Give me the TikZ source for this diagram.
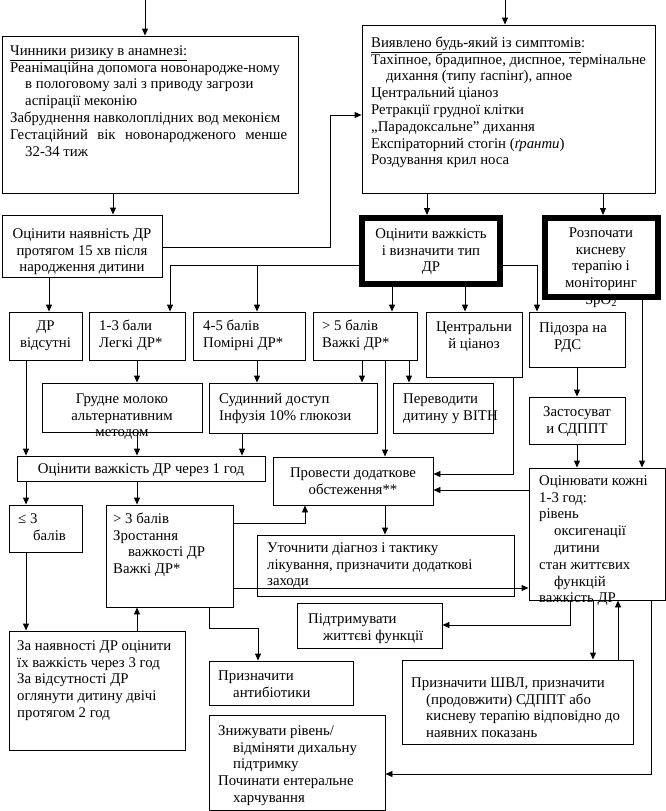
\documentclass[tikz,border=0pt]{standalone}
\usepackage{fontspec}
\setmainfont{Liberation Serif}
\usetikzlibrary{arrows.meta,fit}
\newcommand\fs{\fontsize{14.8}{16.8}\selectfont}
\newcommand\st{\rule{0pt}{12pt}}
\newcommand\ii{\hspace*{15pt}}
\tikzset{
 bx/.style={draw, line width=0.9pt, inner sep=0pt},
 thk/.style={draw, line width=6pt, inner sep=0pt},
 ln/.style={line width=0.9pt},
 arr/.style={line width=0.9pt, -{Triangle[length=7pt,width=6pt]}},
 tl/.style={anchor=north west, inner sep=0pt, align=left, font=\fs},
 tc/.style={anchor=north, inner sep=0pt, align=center, font=\fs},
}
\begin{document}
\begin{tikzpicture}[x=1pt,y=-1pt]
\useasboundingbox (0,0) rectangle (666,811);
% boxes
\node[bx, fit={(2,36)(298,193)}] (b1) {};
\node[bx, fit={(362,25)(655,193)}] (b3) {};
\node[bx, fit={(2,215)(162,277)}] (b2) {};
\node[thk, fit={(362,218)(500,284)}] (b4) {};
\node[thk, fit={(545,218)(658,297)}] (b5) {};
\node[bx, fit={(9,312)(82,360)}] (dr0) {};
\node[bx, fit={(89,312)(185,360)}] (c13) {};
\node[bx, fit={(193,312)(305,360)}] (c45) {};
\node[bx, fit={(313,312)(417,360)}] (c5) {};
\node[bx, fit={(426,312)(522,377)}] (cy) {};
\node[bx, fit={(529,312)(625,367)}] (rds) {};
\node[bx, fit={(42,383)(202,432)}] (grud) {};
\node[bx, fit={(209,383)(377,433)}] (sud) {};
\node[bx, fit={(393,383)(493,433)}] (per) {};
\node[bx, fit={(529,397)(625,444)}] (zas) {};
\node[bx, fit={(17,456)(265,481)}] (h1) {};
\node[bx, fit={(273,457)(433,505)}] (prov) {};
\node[bx, fit={(529,468)(665,600)}] (ev) {};
\node[bx, fit={(9,505)(82,552)}] (le3) {};
\node[bx, fit={(106,505)(233,607)}] (gt3) {};
\node[bx, fit={(257,535)(514,596)}] (ut) {};
\node[bx, fit={(297,603)(442,648)}] (pid) {};
\node[bx, fit={(9,631)(185,750)}] (za) {};
\node[bx, fit={(209,661)(353,705)}] (ab) {};
\node[bx, fit={(209,715)(385,810)}] (zn) {};
\node[bx, fit={(402,660)(633,744)}] (shvl) {};
% texts
\node[tl] (t-b1) at (10,43) {\st\underline{Чинники ризику в анамнезі:}\\
Реанімаційна допомога новонародже-ному\\
\ii в пологовому залі з приводу загрози\\
\ii аспірації меконію\\
Забруднення навколоплідних вод меконієм\\
\makebox[277pt][s]{Гестаційний вік новонародженого менше}\\
\ii 32-34 тиж};
\node[tl] (t-b3) at (371,35) {\st\underline{Виявлено будь-який із симптомів}:\\
Тахіпное, брадипное, диспное, термінальне\\
\ii дихання (типу ґаспінґ), апное\\
Центральний ціаноз\\
Ретракції грудної клітки\\
„Парадоксальне” дихання\\
Експіраторний стогін (\textit{ґранти})\\
Роздування крил носа};
\node[tc] (t-b2) at (82,226) {\st Оцінити наявність ДР\\протягом 15 хв після\\народження дитини};
\node[tc] (t-b4) at (431,226) {\st Оцінити важкість\\і визначити тип\\ДР};
\node[tc] (t-b5) at (601,225) {\st Розпочати\\кисневу\\терапію і\\моніторинг\\SpO\textsubscript{2}};
\node[tc] (t-dr0) at (45.5,318) {\st ДР\\відсутні};
\node[tl] (t-c13) at (99,318) {\st 1-3 бали\\Легкі ДР*};
\node[tl] (t-c45) at (203,318) {\st 4-5 балів\\Помірні ДР*};
\node[tl] (t-c5) at (322,318) {\st > 5 балів\\Важкі ДР*};
\node[tc] (t-cy) at (474,319) {\st Центральни\\й ціаноз};
\node[tl] (t-rds) at (539,320) {\st Підозра на\\\ii РДС};
\node[tc] (t-zas) at (577,404) {\st Застосуват\\и СДППТ};
\node[tc] (t-grud) at (122,391) {\st Грудне молоко\\альтернативним\\методом};
\node[tl] (t-sud) at (219,391) {\st Судинний доступ\\Інфузія 10\% глюкози};
\node[tl] (t-per) at (403,391) {\st Переводити\\дитину у ВІТН};
\node[tc] (t-h1) at (141,461) {\st Оцінити важкість ДР через 1 год};
\node[tc] (t-prov) at (353,465) {\st Провести додаткове\\обстеження**};
\node[tl] (t-le3) at (18,511) {\st ≤ 3\\\ii балів};
\node[tl] (t-gt3) at (113,511) {\st > 3 балів\\Зростання\\\ii важкості ДР\\Важкі ДР*};
\node[tl] (t-ut) at (267,540) {\st Уточнити діагноз і тактику\\лікування, призначити додаткові\\заходи};
\node[tl] (t-pid) at (308,611) {\st Підтримувати\\\ii життєві функції};
\node[tl] (t-ev) at (539,473) {\st Оцінювати кожні\\1-3 год:\\рівень\\\ii оксигенації\\\ii дитини\\стан життєвих\\\ii функцій\\важкість ДР};
\node[tl] (t-za) at (17,638) {\st За наявності ДР оцінити\\їх важкість через 3 год\\За відсутності ДР\\оглянути дитину двічі\\протягом 2 год};
\node[tl] (t-ab) at (218,668) {\st Призначити\\\ii антибіотики};
\node[tl] (t-zn) at (218,723) {\st Знижувати рівень/\\\ii відміняти дихальну\\\ii підтримку\\Починати ентеральне\\\ii харчування};
\node[tl] (t-shvl) at (411,675) {\st Призначити ШВЛ, призначити\\\ii (продовжити) СДППТ або\\\ii кисневу терапію відповідно до\\\ii наявних показань};
% connectors
\coordinate (in1) at (145,0);
\coordinate (in3) at (505,0);
\draw[arr] (in1) -- (in1 |- b1.north);
\draw[arr] (in3) -- (in3 |- b3.north);
\draw[arr] (113,0 |- b1.south) -- (113,0 |- b2.north);
\draw[arr] (b2.east |- 0,247) -- (330,247) -- (330,115) -- (b3.west |- 0,115);
\draw[arr] (427,0 |- b3.south) -- (427,0 |- b4.north);
\draw[arr] (603,0 |- b3.south) -- (603,0 |- b5.north);
\draw[arr] (49,0 |- b2.south) -- (49,0 |- dr0.north);
\draw[arr] (b4.west |- 0,265) -- (170,265) -- (170,0 |- c13.north);
\draw[arr] (257,265) -- (257,0 |- c45.north);
\draw[arr] (392,0 |- b4.south) -- (392,0 |- c5.north);
\draw[arr] (465,0 |- b4.south) -- (465,0 |- cy.north);
\draw[arr] (b4.east |- 0,265) -- (537,265) -- (537,0 |- rds.north);
\draw[arr] (642,0 |- b5.south) -- (642,0 |- ev.north);
\draw[arr] (577,0 |- rds.south) -- (577,0 |- zas.north);
\draw[arr] (577,0 |- zas.south) -- (577,0 |- ev.north);
\draw[arr] (513,0 |- cy.south) -- (513,474) -- (prov.east |- 0,474);
\draw[arr] (ev.west |- 0,490) -- (prov.east |- 0,490);
\draw[arr] (385,0 |- c5.south) -- (385,0 |- prov.north);
\draw[arr] (409,0 |- c5.south) -- (409,0 |- per.north);
\draw[arr] (257,0 |- c45.south) -- (257,0 |- sud.north);
\draw[arr] (362,0 |- c5.south) -- (362,0 |- sud.north);
\draw[arr] (137,0 |- c13.south) -- (137,0 |- grud.north);
\draw[arr] (26,0 |- dr0.south) -- (26,0 |- h1.north);
\draw[arr] (137,0 |- grud.south) -- (137,0 |- h1.north);
\draw[arr] (242,0 |- sud.south) -- (242,0 |- h1.north);
\draw[arr] (26,0 |- h1.south) -- (26,0 |- le3.north);
\draw[arr] (137,0 |- h1.south) -- (137,0 |- gt3.north);
\draw[arr] (gt3.east |- 0,523) -- (305,523) -- (305,0 |- prov.south);
\draw[arr] (gt3.east |- 0,588) -- (ev.west |- 0,588);
\draw[arr] (209,0 |- gt3.south) -- (209,628) -- (258,628) -- (258,0 |- ab.north);
\draw[arr] (26,0 |- le3.south) -- (26,0 |- za.north);
\draw[arr] (137,0 |- za.north) -- (137,0 |- gt3.south);
\draw[arr] (385,0 |- prov.south) -- (385,0 |- ut.north);
\draw[arr] (570,0 |- ev.south) -- (570,625) -- (pid.east |- 0,625);
\draw[arr] (593,0 |- ev.south) -- (593,0 |- shvl.north);
\draw[arr] (618,0 |- shvl.north) -- (618,0 |- ev.south);
\draw[arr] (651,0 |- ev.south) -- (651,774) -- (zn.east |- 0,774);
\end{tikzpicture}
\end{document}
